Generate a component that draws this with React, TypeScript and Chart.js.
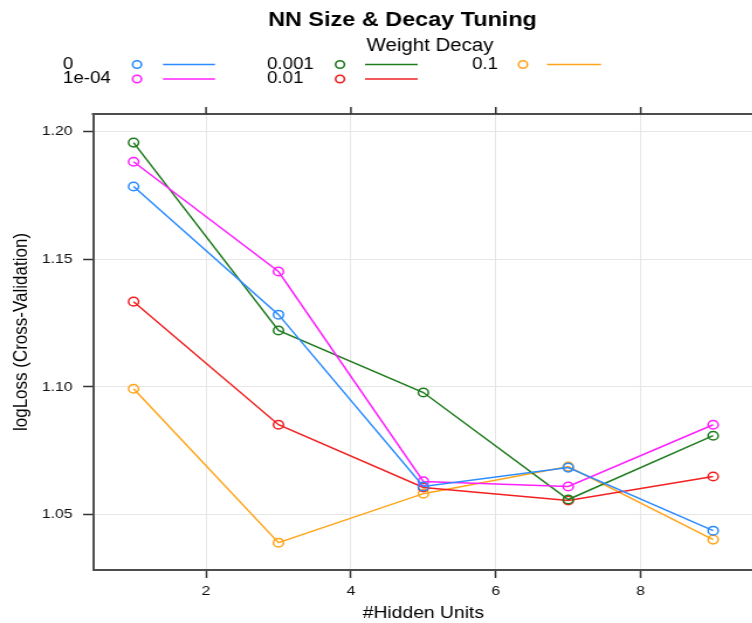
import React, { useEffect, useRef } from "react";
import { Chart, registerables } from "chart.js";

Chart.register(...registerables);

// ---- data ----
const hiddenUnits = [1, 3, 5, 7, 9];
const decayLabels = ["0", "1e-04", "0.001", "0.01", "0.1"];
const lossDecay0 = [1.1785, 1.1283, 1.061, 1.0684, 1.0437];
const lossDecay1e4 = [1.1882, 1.1452, 1.063, 1.061, 1.0852];
const lossDecay001 = [1.1957, 1.1221, 1.0978, 1.0559, 1.0809];
const lossDecay01 = [1.1334, 1.0852, 1.0606, 1.0555, 1.0649];
const lossDecay1 = [1.0993, 1.039, 1.0582, 1.0688, 1.0402];
const seriesValues = [lossDecay0, lossDecay1e4, lossDecay001, lossDecay01, lossDecay1];
const seriesColors = ["#2B8CFF", "#FF20FF", "#1E7B1E", "#F22020", "#FFA51A"];
const xTicks = [2, 4, 6, 8];
const yTicks = [1.05, 1.1, 1.15, 1.2];

const titleText = "NN Size & Decay Tuning";
const legendTitle = "Weight Decay";
const xTitle = "#Hidden Units";
const yTitle = "logLoss (Cross-Validation)";

const STRETCH = 1.17;
const FONT = "'Liberation Sans', Arial, Helvetica, sans-serif";
const CANVAS_W = 650;
const CANVAS_H = 623;

const decorPlugin = {
  id: "decor",
  afterDraw(chart: any) {
    const ctx = chart.ctx as CanvasRenderingContext2D;
    const { left, right, top, bottom } = chart.chartArea;
    const xs = chart.scales.x;
    const ys = chart.scales.y;
    ctx.save();
    // top & right frame
    ctx.strokeStyle = "#4D4D4D";
    ctx.lineWidth = 2;
    ctx.beginPath();
    ctx.moveTo(left - 1, top);
    ctx.lineTo(right, top);
    ctx.lineTo(right, bottom + 1);
    ctx.stroke();
    // top & right ticks
    ctx.strokeStyle = "#333";
    ctx.lineWidth = 1.5;
    xTicks.forEach((v) => {
      const px = xs.getPixelForValue(v);
      ctx.beginPath();
      ctx.moveTo(px, top - 7);
      ctx.lineTo(px, top);
      ctx.stroke();
    });
    yTicks.forEach((v) => {
      const py = ys.getPixelForValue(v);
      ctx.beginPath();
      ctx.moveTo(right, py);
      ctx.lineTo(right + 8, py);
      ctx.stroke();
    });

    ctx.fillStyle = "#000";
    ctx.textBaseline = "middle";
    // title
    ctx.font = `bold 20px ${FONT}`;
    ctx.textAlign = "center";
    ctx.fillText(titleText, 344, 20);
    // legend title
    ctx.font = `17.5px ${FONT}`;
    ctx.fillText(legendTitle, 367.5, 46);
    // legend entries
    const colText = [53.8, 228.2, 403.4];
    const colCircle = [117.1, 290.6, 447];
    const colLine = [
      [139.3, 183.8],
      [312, 357],
      [467.5, 513.7],
    ];
    const rowY = [64.5, 79];
    ctx.font = `16px ${FONT}`;
    decayLabels.forEach((lab, i) => {
      const c = Math.floor(i / 2);
      const r = i % 2;
      const y = rowY[r];
      ctx.fillStyle = "#000";
      ctx.textAlign = "left";
      ctx.fillText(lab, colText[c], y);
      ctx.strokeStyle = seriesColors[i];
      ctx.lineWidth = 1.6;
      ctx.beginPath();
      ctx.arc(colCircle[c], y, 3.8, 0, Math.PI * 2);
      ctx.stroke();
      ctx.beginPath();
      ctx.moveTo(colLine[c][0], y);
      ctx.lineTo(colLine[c][1], y);
      ctx.stroke();
    });
    // axis titles
    ctx.fillStyle = "#000";
    ctx.textAlign = "center";
    ctx.font = `16.5px ${FONT}`;
    ctx.fillText(xTitle, (left + right) / 2, 613);
    ctx.save();
    ctx.translate(18.5, 332);
    ctx.rotate(-Math.PI / 2);
    ctx.font = `17px ${FONT}`;
    ctx.fillText(yTitle, 0, 0);
    ctx.restore();
    ctx.restore();
  },
};

export default function App() {
  const ref = useRef<HTMLCanvasElement | null>(null);
  useEffect(() => {
    if (!ref.current) return;
    const chart = new Chart(ref.current, {
      type: "line",
      data: {
        datasets: decayLabels.map((lab, i) => ({
          label: lab,
          data: hiddenUnits.map((x, j) => ({ x, y: seriesValues[i][j] })),
          borderColor: seriesColors[i],
          backgroundColor: "#ffffff",
          borderWidth: 1.5,
          pointRadius: 4.3,
          pointBorderWidth: 1.5,
          pointBorderColor: seriesColors[i],
          pointBackgroundColor: "rgba(255,255,255,0)",
          tension: 0,
          fill: false,
        })),
      },
      options: {
        animation: false,
        responsive: false,
        events: [],
        layout: { padding: { top: 114, right: CANVAS_W - 645.3, left: 0, bottom: 0 } },
        plugins: {
          legend: { display: false },
          title: { display: false },
          tooltip: { enabled: false },
        },
        scales: {
          x: {
            type: "linear",
            min: 0.44,
            max: 9.56,
            afterFit: (s: any) => {
              s.height = 53;
            },
            afterBuildTicks: (s: any) => {
              s.ticks = xTicks.map((v) => ({ value: v }));
            },
            ticks: {
              color: "#111",
              font: { size: 13.5, family: FONT },
              padding: 5,
              maxRotation: 0,
              callback: (v: any) => String(v),
            },
            grid: {
              color: "#E6E6E6",
              lineWidth: 1,
              tickColor: "#333",
              tickLength: 8,
              tickWidth: 1.5,
              drawTicks: true,
            },
            border: { color: "#4D4D4D", width: 2 },
          },
          y: {
            type: "linear",
            min: 1.0283,
            max: 1.2069,
            afterFit: (s: any) => {
              s.width = 79.5;
            },
            afterBuildTicks: (s: any) => {
              s.ticks = yTicks.map((v) => ({ value: v }));
            },
            ticks: {
              color: "#111",
              font: { size: 13.5, family: FONT },
              padding: 9,
              callback: (v: any) => Number(v).toFixed(2),
            },
            grid: {
              color: "#E6E6E6",
              lineWidth: 1,
              tickColor: "#333",
              tickLength: 8.5,
              tickWidth: 1.5,
              drawTicks: true,
            },
            border: { color: "#4D4D4D", width: 2 },
          },
        },
      },
      plugins: [decorPlugin],
    });
    return () => chart.destroy();
  }, []);

  return (
    <div
      style={{
        position: "absolute",
        left: 0,
        top: 0,
        width: 752,
        height: 623,
        overflow: "hidden",
        background: "#fff",
      }}
    >
      <div
        style={{
          width: CANVAS_W,
          height: CANVAS_H,
          transform: `scaleX(${STRETCH})`,
          transformOrigin: "0 0",
        }}
      >
        <canvas ref={ref} width={CANVAS_W} height={CANVAS_H} style={{ display: "block" }} />
      </div>
    </div>
  );
}
